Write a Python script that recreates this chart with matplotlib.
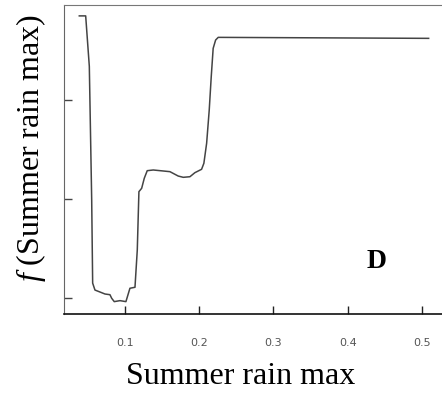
import matplotlib.pyplot as plt

plt.rcParams['mathtext.fontset'] = 'custom'
plt.rcParams['mathtext.it'] = 'Liberation Serif:italic'
plt.rcParams['mathtext.rm'] = 'Liberation Serif'

# partial dependence curve
rain_max = [0.0385, 0.0471, 0.052, 0.0552, 0.0565, 0.0596, 0.0664, 0.0731, 0.0798,
            0.0821, 0.0856, 0.0933, 0.1013, 0.1067, 0.1135, 0.1166, 0.1188, 0.1225,
            0.126, 0.130, 0.1381, 0.1515, 0.1606, 0.1717, 0.1785, 0.1875, 0.1942,
            0.2032, 0.2063, 0.21, 0.2135, 0.2162, 0.2188, 0.2221, 0.2256, 0.509]
f_rain = [2.85, 2.85, 2.34, 0.99, 0.15, 0.08, 0.06, 0.04, 0.033,
          -0.003, -0.037, -0.027, -0.037, 0.098, 0.108, 0.485, 1.074, 1.108,
          1.209, 1.286, 1.293, 1.283, 1.276, 1.232, 1.219, 1.225, 1.266,
          1.30, 1.361, 1.563, 1.899, 2.235, 2.522, 2.606, 2.633, 2.623]
x_ticks = [0.1, 0.2, 0.3, 0.4, 0.5]
y_ticks = [0, 1, 2]

fig = plt.figure(figsize=(4.42, 3.97), dpi=100)
ax = fig.add_axes([64 / 442, 83 / 397, 378 / 442, 309 / 397])

ax.plot(rain_max, f_rain, color='#444444', linewidth=1.1)

ax.set_xlim(0.0179, 0.527)
ax.set_ylim(-0.162, 2.96)
ax.set_xticks(x_ticks)
ax.set_xticklabels([str(t) for t in x_ticks], fontsize=8, color='#555555')
ax.set_yticks(y_ticks)
ax.set_yticklabels([])
ax.tick_params(axis='x', direction='in', length=6, width=1.0, color='#222222', pad=17)
ax.tick_params(axis='y', direction='in', length=6, width=1.0, color='#444444')

ax.spines['right'].set_visible(False)
ax.spines['top'].set_color('#777777')
ax.spines['left'].set_color('#666666')
ax.spines['bottom'].set_color('#111111')
ax.spines['bottom'].set_linewidth(1.2)

ax.text(0.827, 0.148, 'D', transform=ax.transAxes, ha='center', va='baseline',
        fontsize=20, fontweight='bold', family='Liberation Serif')

fig.text(240.5 / 442, 1 - 384 / 397, 'Summer rain max', ha='center', va='baseline',
         fontsize=23, family='Liberation Serif')
fig.text(39 / 442, 1 - 148 / 397, r'$f$ (Summer rain max)', ha='center', va='baseline',
         rotation=90, rotation_mode='anchor', fontsize=23, family='Liberation Serif')

fig.savefig('out.png', dpi=100)
